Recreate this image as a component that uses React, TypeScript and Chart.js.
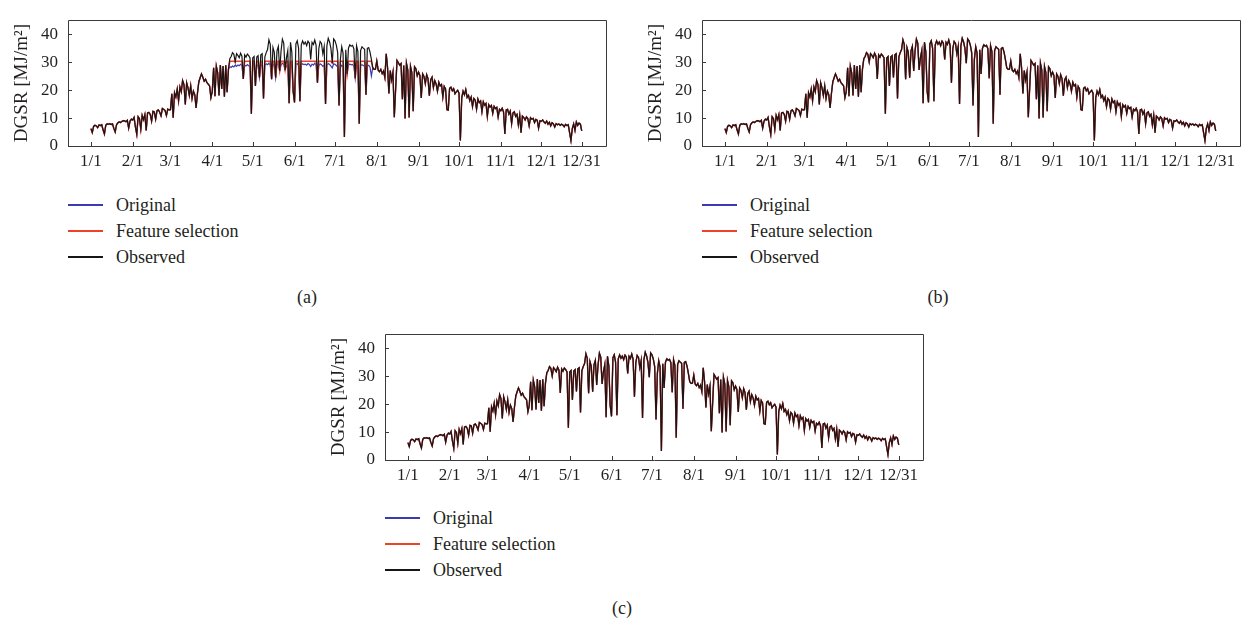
import React, { useEffect, useRef } from 'react';
import { Chart, registerables } from 'chart.js';

Chart.register(...registerables);

const SERIF = '"Liberation Serif", "Times New Roman", serif';
const TEXT_COLOR = '#231f20';

// ---- axis ticks ----
const monthTickDays = [0, 31, 59, 90, 120, 151, 181, 212, 243, 273, 304, 334, 364];
const monthTickLabels = ['1/1', '2/1', '3/1', '4/1', '5/1', '6/1', '7/1', '8/1', '9/1', '10/1', '11/1', '12/1', '12/31'];
const yTickValues = [0, 10, 20, 30, 40];

// ---- observed daily global solar radiation (MJ/m2) ----
const obsJan = [6.2, 4.8, 7.0, 7.4, 7.2, 6.6, 7.5, 7.3, 7.6, 5.8, 4.3, 7.4, 7.9, 7.8, 8.0, 7.7, 7.9, 6.3, 5.0, 7.6, 8.3, 8.6, 8.4, 8.8, 9.1, 9.0, 8.7, 9.2, 6.4, 8.9, 9.6];
const obsFeb = [9.3, 10.2, 6.8, 4.2, 10.5, 9.8, 6.0, 10.9, 9.4, 11.2, 5.6, 11.8, 12.0, 11.3, 8.9, 12.4, 12.2, 9.6, 12.6, 12.9, 12.1, 10.8, 13.4, 13.1, 12.7, 10.9, 13.2, 12.9];
const obsMar = [13.0, 18.7, 10.1, 19.0, 17.5, 20.3, 16.2, 21.1, 19.4, 23.4, 22.0, 14.9, 22.6, 20.8, 18.1, 21.5, 17.0, 19.6, 18.4, 13.6, 18.8, 22.9, 24.4, 25.8, 24.6, 23.2, 23.9, 22.7, 22.1, 21.5, 17.3];
const obsApr = [19.5, 28.0, 17.8, 28.5, 26.2, 18.1, 29.0, 20.4, 28.6, 17.6, 28.9, 19.2, 27.5, 31.2, 32.0, 33.4, 32.8, 30.1, 33.0, 32.4, 31.6, 33.2, 32.1, 24.0, 32.6, 31.8, 32.9, 32.3, 31.5, 11.5];
const obsMay = [31.5, 32.0, 21.5, 31.8, 32.3, 24.5, 32.6, 33.0, 17.0, 31.9, 33.4, 34.5, 38.0, 36.4, 23.9, 35.2, 33.5, 24.4, 34.0, 35.6, 26.8, 33.9, 38.2, 36.8, 27.2, 31.5, 34.1, 15.3, 37.1, 33.6, 19.5];
const obsJun = [15.6, 36.5, 37.6, 35.0, 16.0, 36.2, 37.6, 36.4, 37.2, 35.9, 37.5, 36.8, 31.0, 37.1, 36.3, 37.9, 36.0, 22.6, 34.8, 37.4, 36.7, 33.0, 35.6, 15.0, 35.8, 38.5, 37.2, 34.9, 29.6, 38.3];
const obsJul = [37.6, 36.1, 33.4, 14.5, 31.0, 35.5, 33.2, 3.2, 34.4, 25.8, 35.0, 36.2, 35.7, 36.0, 34.8, 24.2, 35.9, 33.8, 8.0, 34.1, 35.5, 35.0, 34.6, 18.3, 34.9, 35.2, 33.6, 31.0, 28.0, 27.4, 27.5];
const obsAug = [30.4, 27.2, 26.6, 27.4, 25.9, 26.8, 24.5, 33.0, 28.0, 18.8, 27.0, 23.6, 26.4, 10.3, 20.5, 30.6, 29.8, 28.9, 29.5, 16.7, 28.8, 9.8, 29.6, 27.2, 10.2, 28.5, 26.3, 12.4, 28.3, 27.6, 25.1];
const obsSep = [26.4, 25.2, 17.2, 25.8, 24.9, 22.3, 25.5, 24.1, 18.0, 23.7, 24.6, 20.9, 23.4, 22.2, 19.6, 22.8, 21.5, 22.0, 17.5, 21.3, 20.4, 13.0, 12.8, 20.6, 21.0, 19.8, 20.5, 18.7, 19.4, 19.9];
const obsOct = [18.9, 2.0, 17.2, 19.6, 18.3, 20.2, 17.4, 18.1, 16.2, 17.5, 14.1, 17.0, 16.4, 13.2, 16.8, 15.5, 16.1, 12.3, 15.8, 14.6, 15.2, 10.6, 14.8, 13.9, 14.5, 11.7, 14.2, 13.4, 13.8, 10.4, 13.1];
const obsNov = [12.6, 13.5, 12.2, 4.3, 12.9, 13.1, 11.4, 12.5, 8.0, 11.8, 12.2, 10.6, 11.3, 7.6, 11.0, 4.8, 10.7, 10.2, 9.3, 10.4, 9.8, 7.2, 10.1, 9.6, 9.9, 8.4, 9.5, 9.2, 6.4, 9.0];
const obsDec = [8.8, 9.3, 8.6, 8.1, 8.9, 7.8, 8.5, 7.2, 8.3, 7.9, 6.8, 8.0, 7.6, 7.9, 7.4, 7.8, 7.5, 6.9, 7.7, 7.3, 7.6, 4.8, 2.0, 6.2, 7.9, 5.6, 8.6, 7.4, 8.2, 7.8, 5.4];

const observed = [
  ...obsJan, ...obsFeb, ...obsMar, ...obsApr, ...obsMay, ...obsJun,
  ...obsJul, ...obsAug, ...obsSep, ...obsOct, ...obsNov, ...obsDec,
];

// ---- panel (a): predictions saturate in summer (days 103..208) ----
const capStartDayA = 103;
const originalSummerA = [
  28.4, 28.1, 28.6, 28.3, 28.9, 28.5, 29.0, 28.7, 29.2, 28.8, 24.0, 28.9, 28.6, 29.1, 28.7, 28.4, 11.5,
  28.9, 29.3, 21.5, 28.8, 29.0, 24.5, 28.7, 29.2, 17.0, 28.9, 29.4, 29.1, 29.6, 29.0, 23.9, 29.3, 28.8, 24.4, 29.2, 29.5, 26.8, 28.9, 29.6, 29.2, 27.2, 28.6, 29.0, 15.3, 29.4, 28.8, 19.5,
  15.6, 29.1, 29.5, 28.7, 16.0, 29.0, 29.4, 29.1, 29.3, 28.9, 29.5, 29.2, 28.4, 29.3, 28.9, 29.6, 29.0, 22.6, 28.7, 29.4, 29.1, 28.5, 28.9, 15.0, 28.8, 29.5, 29.2, 28.6, 27.9, 29.4,
  29.2, 28.8, 28.3, 14.5, 28.0, 28.9, 28.4, 3.2, 28.7, 25.8, 28.9, 29.3, 29.0, 29.2, 28.6, 24.2, 29.0, 28.5, 8.0, 28.7, 29.1, 28.8, 28.5, 18.3, 28.6, 28.9, 28.2, 25.0,
];
const featureSummerA = [
  30.3, 30.3, 30.3, 30.3, 30.1, 30.3, 30.3, 30.3, 30.3, 30.3, 24.0, 30.3, 30.3, 30.3, 30.3, 30.3, 11.5,
  30.3, 30.3, 21.5, 30.3, 30.3, 24.5, 30.3, 30.3, 17.0, 30.3, 30.3, 30.3, 30.3, 30.3, 23.9, 30.3, 30.3, 24.4, 30.3, 30.3, 26.8, 30.3, 30.3, 30.3, 27.2, 30.3, 30.3, 15.3, 30.3, 30.3, 19.5,
  15.6, 30.3, 30.3, 30.3, 16.0, 30.3, 30.3, 30.3, 30.3, 30.3, 30.3, 30.3, 30.3, 30.3, 30.3, 30.3, 30.3, 22.6, 30.3, 30.3, 30.3, 30.3, 30.3, 15.0, 30.3, 30.3, 30.3, 30.3, 29.6, 30.3,
  30.3, 30.3, 30.3, 14.5, 30.3, 30.3, 30.3, 3.2, 30.3, 25.8, 30.3, 30.3, 30.3, 30.3, 30.3, 24.2, 30.3, 30.3, 8.0, 30.3, 30.3, 30.3, 30.3, 18.3, 30.3, 30.3, 30.3, 30.3,
];

const withSummer = (base: number[], summer: number[], start: number) =>
  base.map((v, i) => (i >= start && i < start + summer.length ? summer[i - start] : v));

const originalA = withSummer(observed, originalSummerA, capStartDayA);
const featureA = withSummer(observed, featureSummerA, capStartDayA);
// panels (b) and (c): predictions coincide with the observations
const originalB = observed;
const featureB = observed;
const originalC = observed;
const featureC = observed;

const seriesNames = ['Original', 'Feature selection', 'Observed'];
const seriesColors = ['#3b3bb0', '#ee4129', '#161616'];
const seriesWidths = [1.2, 1.5, 1.2];

const PLOT_W = 538;
const PLOT_H = 139;
const Y_AXIS_W = 68;
const X_AXIS_H = 30;
const PAD_TOP = 7;
const PAD_RIGHT = 5;

const frameAndTicks = {
  id: 'frameAndTicks',
  afterDatasetsDraw(chart: any) {
    const { ctx, chartArea: a, scales } = chart;
    ctx.save();
    ctx.strokeStyle = '#3a3a3a';
    ctx.lineWidth = 1;
    ctx.beginPath();
    ctx.rect(Math.round(a.left) + 0.5, Math.round(a.top) + 0.5, Math.round(a.right - a.left), Math.round(a.bottom - a.top));
    ctx.stroke();
    ctx.beginPath();
    scales.x.ticks.forEach((t: any) => {
      const px = Math.round(scales.x.getPixelForValue(t.value)) + 0.5;
      ctx.moveTo(px, Math.round(a.bottom));
      ctx.lineTo(px, Math.round(a.bottom) - 4);
    });
    scales.y.ticks.forEach((t: any) => {
      const py = Math.round(scales.y.getPixelForValue(t.value)) + 0.5;
      ctx.moveTo(Math.round(a.left), py);
      ctx.lineTo(Math.round(a.left) + 4, py);
    });
    ctx.stroke();
    ctx.restore();
  },
};

type PanelProps = {
  chartLeft: number;
  chartTop: number;
  original: number[];
  feature: number[];
  obs: number[];
  label: string;
  labelX: number;
  labelY: number;
  legendGap: number;
};

function Panel({ chartLeft, chartTop, original, feature, obs, label, labelX, labelY, legendGap }: PanelProps) {
  const ref = useRef<HTMLCanvasElement>(null);
  const cw = Y_AXIS_W + PLOT_W + PAD_RIGHT;
  const ch = PAD_TOP + PLOT_H + X_AXIS_H;

  useEffect(() => {
    const toPoints = (arr: number[]) => arr.map((y, i) => ({ x: i, y }));
    const values = [original, feature, obs];
    const chart = new Chart(ref.current as HTMLCanvasElement, {
      type: 'line',
      data: {
        datasets: seriesNames.map((name, k) => ({
          label: name,
          data: toPoints(values[k]),
          borderColor: seriesColors[k],
          backgroundColor: seriesColors[k],
          borderWidth: seriesWidths[k],
          pointRadius: 0,
          tension: 0,
          fill: false,
          order: 2 - k,
        })),
      },
      options: {
        animation: false,
        responsive: false,
        maintainAspectRatio: false,
        devicePixelRatio: 1,
        events: [],
        layout: { padding: { top: PAD_TOP, right: PAD_RIGHT, left: 0, bottom: 0 } },
        plugins: { legend: { display: false }, tooltip: { enabled: false }, title: { display: false } },
        scales: {
          x: {
            type: 'linear',
            min: -17,
            max: 382,
            grid: { display: false, drawTicks: false },
            border: { display: false },
            afterBuildTicks: (s: any) => {
              s.ticks = monthTickDays.map((v) => ({ value: v }));
            },
            afterFit: (s: any) => {
              s.height = X_AXIS_H;
            },
            ticks: {
              autoSkip: false,
              maxRotation: 0,
              minRotation: 0,
              padding: 5,
              color: TEXT_COLOR,
              font: { family: SERIF, size: 17 },
              callback: (v: any) => {
                const idx = monthTickDays.indexOf(Number(v));
                return idx >= 0 ? monthTickLabels[idx] : '';
              },
            },
          },
          y: {
            type: 'linear',
            min: 0,
            max: 45,
            grid: { display: false, drawTicks: false },
            border: { display: false },
            afterBuildTicks: (s: any) => {
              s.ticks = yTickValues.map((v) => ({ value: v }));
            },
            afterFit: (s: any) => {
              s.width = Y_AXIS_W;
            },
            ticks: {
              padding: 10,
              color: TEXT_COLOR,
              font: { family: SERIF, size: 17 },
            },
            title: {
              display: true,
              text: 'DGSR [MJ/m²]',
              color: TEXT_COLOR,
              font: { family: SERIF, size: 19 },
              padding: { top: 11, bottom: 0 },
            },
          },
        },
      },
      plugins: [frameAndTicks],
    } as any);
    return () => chart.destroy();
  }, []);

  const chartBottom = chartTop + PLOT_H;
  return (
    <>
      <canvas
        ref={ref}
        width={cw}
        height={ch}
        style={{ position: 'absolute', left: chartLeft - Y_AXIS_W, top: chartTop - PAD_TOP, width: cw, height: ch }}
      />
      {seriesNames.map((name, k) => {
        const yc = chartBottom + legendGap + k * 26;
        return (
          <React.Fragment key={name}>
            <div
              style={{
                position: 'absolute',
                left: chartLeft,
                top: yc - 1,
                width: 35,
                height: 1.5,
                background: seriesColors[k],
              }}
            />
            <div
              style={{
                position: 'absolute',
                left: chartLeft + 48,
                top: yc - 11,
                height: 22,
                lineHeight: '22px',
                fontFamily: SERIF,
                fontSize: 18,
                color: TEXT_COLOR,
                whiteSpace: 'nowrap',
              }}
            >
              {name}
            </div>
          </React.Fragment>
        );
      })}
      <div
        style={{
          position: 'absolute',
          left: labelX - 20,
          width: 40,
          top: labelY - 11,
          lineHeight: '22px',
          textAlign: 'center',
          fontFamily: SERIF,
          fontSize: 18,
          color: TEXT_COLOR,
        }}
      >
        {label}
      </div>
    </>
  );
}

export default function App() {
  return (
    <div
      style={{
        position: 'absolute',
        left: 0,
        top: 0,
        width: 1245,
        height: 624,
        overflow: 'hidden',
        background: '#ffffff',
      }}
    >
      <Panel chartLeft={68} chartTop={7} original={originalA} feature={featureA} obs={observed} label="(a)" labelX={307} labelY={297} legendGap={59} />
      <Panel chartLeft={702} chartTop={7} original={originalB} feature={featureB} obs={observed} label="(b)" labelX={938} labelY={297} legendGap={59} />
      <Panel chartLeft={385} chartTop={321} original={originalC} feature={featureC} obs={observed} label="(c)" labelX={622} labelY={608} legendGap={58} />
    </div>
  );
}
